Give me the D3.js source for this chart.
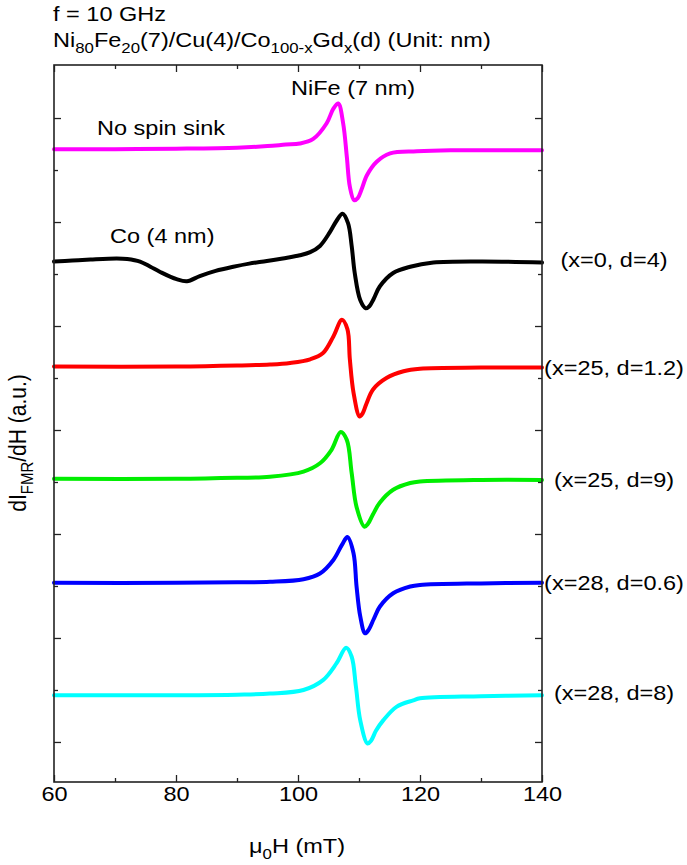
<!DOCTYPE html>
<html>
<head>
<meta charset="utf-8">
<script src="https://cdn.jsdelivr.net/npm/d3@7"></script>
<style>
  html, body { margin: 0; padding: 0; background: #fff; }
  svg { display: block; }
  text { font-family: "Liberation Sans", Arial, Helvetica, sans-serif; fill: #000; }
</style>
</head>
<body>
<svg id="chart" width="687" height="865"></svg>
<script>
// ---------------- DATA ----------------
// x-axis: magnetic field mu0H (mT)
const xMajorTicks = [60, 80, 100, 120, 140];
const xMinorTicks = [70, 90, 110, 130];
// y-axis (arbitrary units, stacked curves)
const yMajorTicks = [10, 20, 30, 40, 50, 60, 70];
const yMinorTicks = [15, 25, 35, 45, 55, 65];

const seriesLabels = ["No spin sink", "(x=0, d=4)", "(x=25, d=1.2)", "(x=25, d=9)", "(x=28, d=0.6)", "(x=28, d=8)"];
const seriesColors = ["#ff00ff", "#000000", "#ff0000", "#00ee00", "#0000ff", "#00ffff"];
const seriesOffsets = [67.0, 56.2, 46.1, 35.3, 25.3, 14.5];

// [mu0H (mT), dI/dH relative to offset (a.u.)]
const noSpinSink = [[60,0],[70,0],[80,0.05],[90,0.15],[95,0.3],[98,0.45],[100.3,0.55],[102.5,1.0],[104.7,2.5],[105.8,3.9],[106.6,4.4],[107.4,2.5],[108.0,-0.7],[108.5,-3.6],[109.2,-4.9],[109.8,-4.7],[110.4,-3.9],[111.3,-2.5],[112.9,-1.2],[115.1,-0.4],[119.5,-0.2],[125,-0.1],[130,-0.1],[140,-0.1]];
const co_x0_d4 = [[60,0],[63,0.1],[66,0.2],[70.3,0.3],[72,0.25],[74.1,0],[75.8,-0.5],[77.4,-1.0],[80.1,-1.7],[81.8,-1.9],[83.9,-1.4],[86.5,-0.9],[89.4,-0.5],[92,-0.2],[94.9,0.05],[97.5,0.3],[100.3,0.6],[102,0.9],[103.6,1.5],[105.2,2.8],[106.3,3.9],[107.3,4.6],[108.2,3.7],[108.8,1.5],[109.3,-1.1],[110.2,-3.7],[111.1,-4.5],[111.7,-4.3],[112.4,-3.6],[113.4,-2.4],[115.6,-1.1],[118.4,-0.5],[122.2,-0.1],[130,0],[140,-0.1]];
const coGd_x25_d1p2 = [[60,0],[80,0],[90,0.1],[95.4,0.2],[98.7,0.35],[102,0.7],[104.1,1.3],[105.8,2.9],[107.2,4.5],[108.1,3.6],[108.5,0.7],[109.1,-2.5],[110.1,-4.8],[110.6,-4.5],[111.2,-3.6],[112.3,-2.2],[114.5,-1.1],[117.3,-0.45],[120,-0.2],[130,-0.1],[140,-0.1]];
const coGd_x25_d9 = [[60,0],[80,0],[90,0.1],[95.4,0.2],[100.9,0.7],[103.6,1.5],[105.5,2.8],[107,4.5],[108,3.75],[108.8,0.55],[109.6,-2.7],[110.9,-4.6],[111.5,-4.3],[112.3,-3.4],[113.4,-2.3],[115.6,-1.05],[118.4,-0.4],[120,-0.25],[130,-0.1],[140,-0.1]];
const coGd_x28_d0p6 = [[60,0],[80,0],[90,0.05],[95.4,0.1],[100.9,0.35],[103.6,0.9],[105.8,2.2],[107.2,3.65],[108.1,4.4],[109.1,2.85],[109.6,-0.35],[110.2,-3.2],[111,-4.85],[111.6,-4.5],[112.4,-3.5],[113.4,-2.3],[115.6,-1.0],[118.4,-0.35],[120,-0.2],[130,-0.05],[140,0]];
const coGd_x28_d8 = [[60,0],[80,0],[90,0.05],[95.4,0.15],[100.9,0.5],[104.1,1.45],[106.3,3.05],[107.9,4.55],[108.8,3.7],[109.5,0.8],[110.2,-2.4],[111.4,-4.65],[112,-4.35],[112.8,-3.4],[114,-2.4],[116.2,-1.1],[118.9,-0.5],[120,-0.3],[130,-0.1],[140,0]];

const seriesData = [noSpinSink, co_x0_d4, coGd_x25_d1p2, coGd_x25_d9, coGd_x28_d0p6, coGd_x28_d8];

// ---------------- LAYOUT ----------------
const L = 54, R = 542, T = 65, B = 782;
const SX = 1.12;          // horizontal glyph stretch of the original figure
const FS = 21, FSUB = 15;

const svg = d3.select("#chart");
const x = d3.scaleLinear().domain([60, 140]).range([L, R]);
const y = d3.scaleLinear().domain([6.15, 75.1]).range([B, T]);

// curves
const line = d3.line()
  .x(d => x(d[0]))
  .y(d => y(d[1]))
  .curve(d3.curveCatmullRom.alpha(0.5));

seriesData.forEach((arr, i) => {
  const pts = arr.map(p => [p[0], p[1] + seriesOffsets[i]]);
  svg.append("path")
    .datum(pts)
    .attr("d", line)
    .attr("fill", "none")
    .attr("stroke", seriesColors[i])
    .attr("stroke-width", 4)
    .attr("stroke-linejoin", "round")
    .attr("stroke-linecap", "round");
});

// axes (ticks inward on all four sides)
function styleAxis(g) {
  g.select(".domain").remove();
  g.selectAll(".tick line").attr("stroke", "#222").attr("stroke-width", 1.3);
}
const fmt = d3.format("d");
svg.append("g").attr("transform", `translate(0,${B})`)
  .call(d3.axisBottom(x).tickValues(xMajorTicks).tickSize(-7).tickPadding(4).tickFormat(fmt))
  .call(styleAxis)
  .call(g => g.selectAll("text")
    .attr("font-size", FS).attr("font-family", null)
    .attr("transform", `scale(${SX},1)`));
svg.append("g").attr("transform", `translate(0,${B})`)
  .call(d3.axisBottom(x).tickValues(xMinorTicks).tickSize(-4).tickFormat(""))
  .call(styleAxis);
svg.append("g").attr("transform", `translate(0,${T})`)
  .call(d3.axisTop(x).tickValues(xMajorTicks).tickSize(-7).tickFormat(""))
  .call(styleAxis);
svg.append("g").attr("transform", `translate(0,${T})`)
  .call(d3.axisTop(x).tickValues(xMinorTicks).tickSize(-4).tickFormat(""))
  .call(styleAxis);
svg.append("g").attr("transform", `translate(${L},0)`)
  .call(d3.axisLeft(y).tickValues(yMajorTicks).tickSize(-7).tickFormat(""))
  .call(styleAxis);
svg.append("g").attr("transform", `translate(${L},0)`)
  .call(d3.axisLeft(y).tickValues(yMinorTicks).tickSize(-4).tickFormat(""))
  .call(styleAxis);
svg.append("g").attr("transform", `translate(${R},0)`)
  .call(d3.axisRight(y).tickValues(yMajorTicks).tickSize(-7).tickFormat(""))
  .call(styleAxis);
svg.append("g").attr("transform", `translate(${R},0)`)
  .call(d3.axisRight(y).tickValues(yMinorTicks).tickSize(-4).tickFormat(""))
  .call(styleAxis);

// frame
svg.append("rect")
  .attr("x", L).attr("y", T).attr("width", R - L).attr("height", B - T)
  .attr("fill", "none").attr("stroke", "#222").attr("stroke-width", 1.6);

// text helper: parts = [[string, isSub], ...]
function addText(px, py, parts, anchor, rotate) {
  const t = svg.append("text")
    .attr("transform", `translate(${px},${py}) scale(${SX},1)` + (rotate ? ` rotate(${rotate})` : ""))
    .attr("text-anchor", anchor || "start")
    .attr("font-size", FS);
  let shifted = false;
  parts.forEach(([s, sub]) => {
    const ts = t.append("tspan").text(s);
    if (sub && !shifted) { ts.attr("dy", 6).attr("font-size", FSUB); shifted = true; }
    else if (sub) { ts.attr("font-size", FSUB); }
    else if (!sub && shifted) { ts.attr("dy", -6); shifted = false; }
  });
  return t;
}

// titles
addText(53, 21, [["f = 10 GHz", false]]);
addText(53, 47, [["Ni", false], ["80", true], ["Fe", false], ["20", true], ["(7)/Cu(4)/Co", false], ["100-x", true], ["Gd", false], ["x", true], ["(d) (Unit: nm)", false]]);

// annotations
addText(291, 95, [["NiFe (7 nm)", false]]);
addText(97, 135, [["No spin sink", false]]);
addText(110, 243, [["Co (4 nm)", false]]);

// right-side series labels
const rightLabelY = [267, 375, 487, 590, 700];
seriesLabels.slice(1).forEach((lab, i) => {
  addText(614, rightLabelY[i], [[lab, false]], "middle");
});

// axis titles
addText(297, 853, [["\u03bc", false], ["0", true], ["H (mT)", false]], "middle");
addText(26, 443, [["dI", false], ["FMR", true], ["/dH (a.u.)", false]], "middle", -90);
</script>
</body>
</html>
